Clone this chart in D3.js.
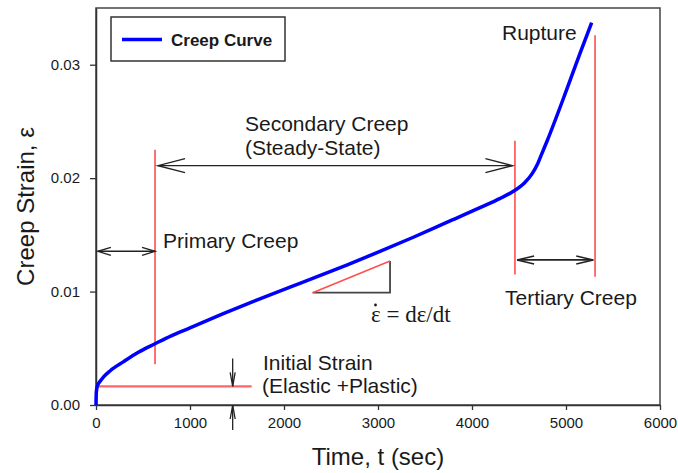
<!DOCTYPE html>
<html>
<head>
<meta charset="utf-8">
<script src="https://cdn.jsdelivr.net/npm/d3@7"></script>
<style>
  body { margin: 0; background: #fff; }
  text { font-family: "Liberation Sans", Arial, sans-serif; fill: #1a1a1a; }
</style>
</head>
<body>
<svg id="chart"></svg>
<script>
// creep curve: time (sec) and strain
const times = [0, 3, 14, 40, 78, 149, 290, 450, 628, 800, 1000, 1354, 1709, 2064, 2312, 2667, 3021, 3376, 3731, 4085, 4300, 4440, 4560, 4640, 4700, 4750, 4800, 5007, 5149, 5273];
const strains = [0, 0.0011, 0.00166, 0.00205, 0.00245, 0.0030, 0.0038, 0.00465, 0.0054, 0.0061, 0.0068, 0.00805, 0.00925, 0.0104, 0.01118, 0.01234, 0.01354, 0.01479, 0.0161, 0.0174, 0.01822, 0.01884, 0.0196, 0.0204, 0.0213, 0.0223, 0.0233, 0.0278, 0.0310, 0.0337];

const xTicks = [0, 1000, 2000, 3000, 4000, 5000, 6000];
const yTicks = [0, 0.01, 0.02, 0.03];

// stage boundaries (sec) and marker levels (strain)
const stageBounds = [628, 4457, 5309];
const initialStrain = 0.00165;

const width = 678, height = 473,
  margin = {top: 8, right: 18, bottom: 68, left: 96},
  w = width - margin.left - margin.right,
  h = height - margin.top - margin.bottom;

const svg = d3.select('#chart')
  .attr('width', width)
  .attr('height', height);

const x = d3.scaleLinear().domain([0, 6000]).range([margin.left, margin.left + w]);
const y = d3.scaleLinear().domain([0, 0.035]).range([margin.top + h, margin.top]);

// frame
svg.append('rect')
  .attr('x', margin.left).attr('y', margin.top)
  .attr('width', w).attr('height', h)
  .attr('fill', 'none').attr('stroke', '#444').attr('stroke-width', 1.5);

const xAxis = svg.append('g')
  .attr('transform', `translate(0,${margin.top + h})`)
  .call(d3.axisBottom(x).tickValues(xTicks).tickFormat(d3.format('d')).tickSize(5).tickSizeOuter(0).tickPadding(7));

const yAxis = svg.append('g')
  .attr('transform', `translate(${margin.left},0)`)
  .call(d3.axisLeft(y).tickValues(yTicks).tickFormat(d3.format('.2f')).tickSize(6).tickSizeOuter(0).tickPadding(10));

[xAxis, yAxis].forEach(a => {
  a.select('.domain').attr('stroke', '#333').attr('stroke-width', 1.5);
  a.selectAll('.tick line').attr('stroke', '#333').attr('stroke-width', 1.3);
  a.selectAll('.tick text')
    .style('font-family', '"Liberation Sans", Arial, sans-serif')
    .style('font-size', '15px')
    .attr('fill', '#222');
});

// axis titles
svg.append('text')
  .attr('x', margin.left + w / 2)
  .attr('y', 465)
  .attr('text-anchor', 'middle')
  .style('font-size', '24px')
  .text('Time, t (sec)');

svg.append('text')
  .attr('transform', `translate(34,${margin.top + h / 2}) rotate(-90)`)
  .attr('text-anchor', 'middle')
  .style('font-size', '24px')
  .text('Creep Strain, \u03b5');

const red = '#ff4d4d';

// stage boundary lines
const redLines = [
  [stageBounds[0], 0.0036, 0.0225],
  [stageBounds[1], 0.0115, 0.0233],
  [stageBounds[2], 0.0113, 0.0326]
];
svg.selectAll('.bound')
  .data(redLines)
  .enter().append('line')
  .attr('x1', d => x(d[0])).attr('x2', d => x(d[0]))
  .attr('y1', d => y(d[1])).attr('y2', d => y(d[2]))
  .attr('stroke', red).attr('stroke-width', 1.6);

// initial strain line
svg.append('line')
  .attr('x1', x(0)).attr('x2', x(1656))
  .attr('y1', y(initialStrain)).attr('y2', y(initialStrain))
  .attr('stroke', red).attr('stroke-width', 2.2).attr('opacity', 0.85);

// arrows: line with open chevron heads
function arrowLine(x1, y1, x2, y2, len, half, both, sw) {
  const g = svg.append('g').attr('stroke', '#222').attr('fill', 'none').attr('stroke-width', sw || 1.3);
  g.append('line').attr('x1', x1).attr('y1', y1).attr('x2', x2).attr('y2', y2);
  const head = (px, py, qx, qy) => {
    const a = Math.atan2(py - qy, px - qx);
    const p = [
      [px - len * Math.cos(a) + half * Math.sin(a), py - len * Math.sin(a) - half * Math.cos(a)],
      [px, py],
      [px - len * Math.cos(a) - half * Math.sin(a), py - len * Math.sin(a) + half * Math.cos(a)]
    ];
    g.append('path').attr('d', d3.line()(p));
  };
  head(x2, y2, x1, y1);
  if (both) head(x1, y1, x2, y2);
}

// primary, secondary, tertiary spans
arrowLine(x(20), y(0.01355), x(stageBounds[0]), y(0.01355), 13, 4, true, 1.4);
arrowLine(x(660), y(0.0211), x(4430), y(0.0211), 27, 7, true, 1.4);
arrowLine(x(4480), y(0.01279), x(5290), y(0.01279), 17, 4, true, 1.6);

// initial strain arrows
arrowLine(x(1454), y(0.0041), x(1454), y(initialStrain), 14, 2.5, false, 1.3);
arrowLine(x(1454), y(-0.0022), x(1454), y(0), 14, 2.5, false, 1.3);

// slope triangle
svg.append('path')
  .attr('d', d3.line()([[x(2305), y(0.0099)], [x(3128), y(0.0099)], [x(3128), y(0.0127)]]))
  .attr('fill', 'none').attr('stroke', '#444').attr('stroke-width', 1.8);
svg.append('line')
  .attr('x1', x(2305)).attr('y1', y(0.0099))
  .attr('x2', x(3128)).attr('y2', y(0.0127))
  .attr('stroke', red).attr('stroke-width', 1.5);

// creep curve
const line = d3.line()
  .x((d, i) => x(times[i]))
  .y(d => y(d))
  .curve(d3.curveMonotoneX);

svg.append('path')
  .datum(strains)
  .attr('d', line)
  .attr('fill', 'none')
  .attr('stroke', '#0000ff')
  .attr('stroke-width', 3.5);

// labels
const labels = [
  ['Secondary Creep', 245, 131],
  ['(Steady-State)', 245, 155],
  ['Primary Creep', 163, 248],
  ['Rupture', 502, 40],
  ['Tertiary Creep', 505, 305],
  ['Initial Strain', 263, 370],
  ['(Elastic +Plastic)', 262, 393]
];
svg.selectAll('.lbl')
  .data(labels)
  .enter().append('text')
  .attr('x', d => d[1]).attr('y', d => d[2])
  .style('font-size', '21px')
  .text(d => d[0]);

// rate formula, dot drawn separately over the epsilon
svg.append('text')
  .attr('x', 371).attr('y', 322)
  .style('font-family', '"Liberation Serif", "Times New Roman", serif')
  .style('font-size', '23px')
  .text('\u03b5 = d\u03b5/dt');
svg.append('circle')
  .attr('cx', 375.5).attr('cy', 305)
  .attr('r', 1.4)
  .attr('fill', '#1a1a1a');

// legend
const legend = svg.append('g');
legend.append('rect')
  .attr('x', 111).attr('y', 17).attr('width', 174).attr('height', 44)
  .attr('fill', '#fff').attr('stroke', '#333').attr('stroke-width', 1.5);
legend.append('line')
  .attr('x1', 122).attr('x2', 162).attr('y1', 39.5).attr('y2', 39.5)
  .attr('stroke', '#0000ff').attr('stroke-width', 3.5);
legend.append('text')
  .attr('x', 171).attr('y', 45.5)
  .style('font-size', '17px')
  .style('font-weight', 'bold')
  .text('Creep Curve');
</script>
</body>
</html>
